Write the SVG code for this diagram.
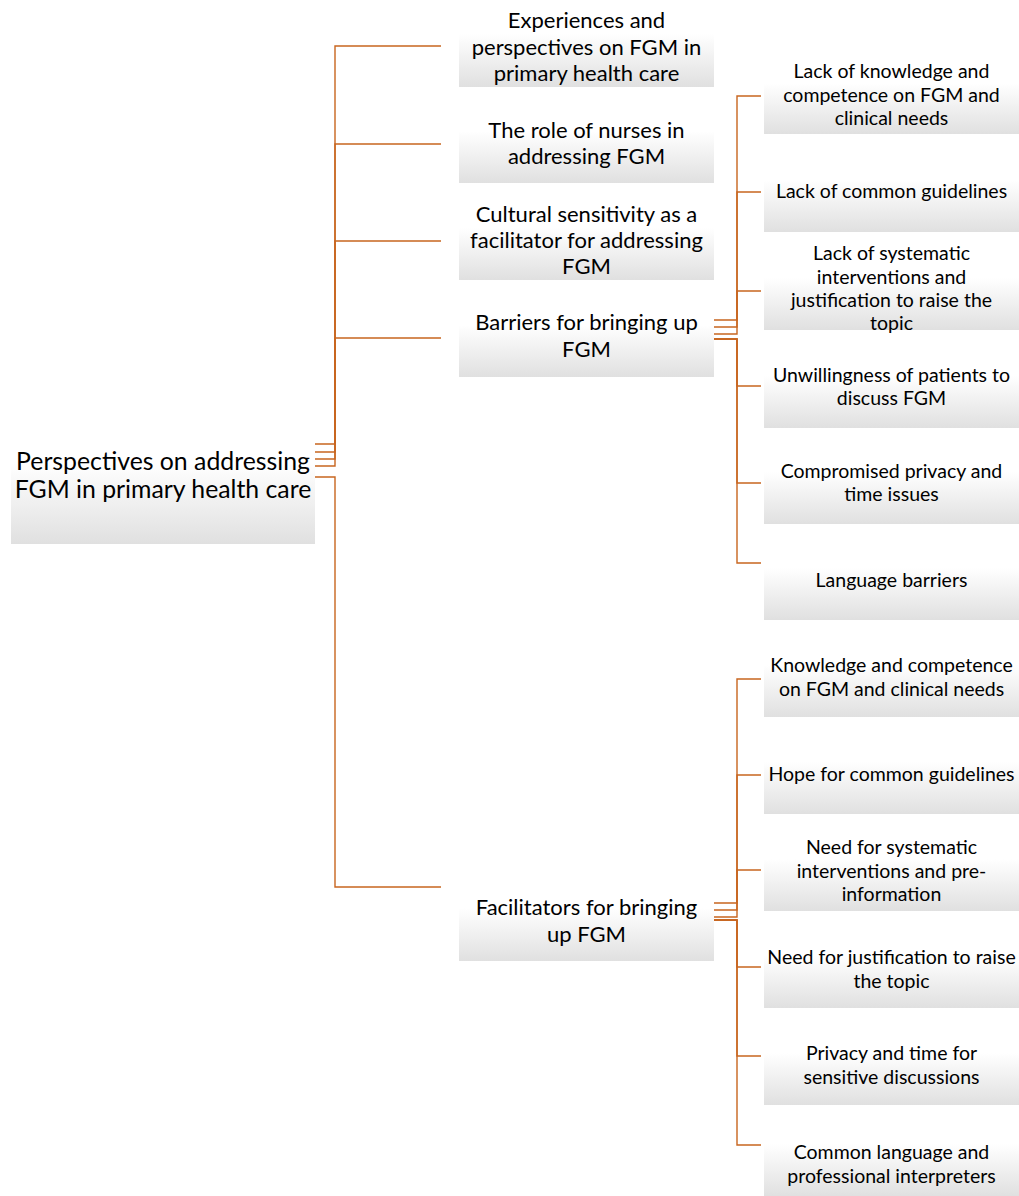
<svg xmlns="http://www.w3.org/2000/svg" width="1019" height="1196" viewBox="0 0 1019 1196">
<defs>
<linearGradient id="g" x1="0" y1="0" x2="0" y2="1">
<stop offset="0" stop-color="#ffffff"/>
<stop offset="0.35" stop-color="#ffffff"/>
<stop offset="1" stop-color="#e0e0e0"/>
</linearGradient>
</defs>
<style>
.box{fill:url(#g);stroke:none}
.t0{font-family:Lato,"Liberation Sans",sans-serif;font-size:24.8px;fill:#000;text-anchor:middle}
.t1{font-family:Lato,"Liberation Sans",sans-serif;font-size:22px;fill:#000;text-anchor:middle}
.t2{font-family:Lato,"Liberation Sans",sans-serif;font-size:19.5px;fill:#000;text-anchor:middle}
.c{fill:none;stroke:#c8651f;stroke-width:1.4}
</style>
<g id="connectors">
<path class="c" d="M315,444H335V46H441"/>
<path class="c" d="M315,452H335V144H441"/>
<path class="c" d="M315,459H335V241H441"/>
<path class="c" d="M315,466H335V338H441"/>
<path class="c" d="M315,477H335V887H441"/>
<path class="c" d="M714,320H737V96H761"/>
<path class="c" d="M714,327H737V192H761"/>
<path class="c" d="M714,334H737V291H761"/>
<path class="c" d="M714,339H737V386H761"/>
<path class="c" d="M714,339H737V483H761"/>
<path class="c" d="M714,339H737V563H761"/>
<path class="c" d="M714,903H737V679H761"/>
<path class="c" d="M714,910H737V775H761"/>
<path class="c" d="M714,917H737V870H761"/>
<path class="c" d="M714,920H737V967H761"/>
<path class="c" d="M714,920H737V1056H761"/>
<path class="c" d="M714,920H737V1145H761"/>
</g>
<g id="root">
<rect class="box" x="11" y="420" width="304" height="124"/>
<text class="t0" x="163" y="470">Perspectives on addressing</text>
<text class="t0" x="163" y="498">FGM in primary health care</text>
</g>
<g id="n-experiences">
<rect class="box" x="459" y="5" width="255" height="82"/>
<text class="t1" x="586.5" y="28">Experiences and</text>
<text class="t1" x="586.5" y="54.5">perspectives on FGM in</text>
<text class="t1" x="586.5" y="81">primary health care</text>
</g>
<g id="n-role">
<rect class="box" x="459" y="103" width="255" height="80"/>
<text class="t1" x="586.5" y="138">The role of nurses in</text>
<text class="t1" x="586.5" y="164">addressing FGM</text>
</g>
<g id="n-cultural">
<rect class="box" x="459" y="200" width="255" height="80"/>
<text class="t1" x="586.5" y="222">Cultural sensitivity as a</text>
<text class="t1" x="586.5" y="248">facilitator for addressing</text>
<text class="t1" x="586.5" y="274">FGM</text>
</g>
<g id="n-barriers">
<rect class="box" x="459" y="297" width="255" height="80"/>
<text class="t1" x="586.5" y="330">Barriers for bringing up</text>
<text class="t1" x="586.5" y="357">FGM</text>
</g>
<g id="n-facilitators">
<rect class="box" x="459" y="880" width="255" height="81"/>
<text class="t1" x="586.5" y="915">Facilitators for bringing</text>
<text class="t1" x="586.5" y="942">up FGM</text>
</g>
<g id="b1">
<rect class="box" x="764" y="56" width="255" height="78"/>
<text class="t2" x="891.5" y="78">Lack of knowledge and</text>
<text class="t2" x="891.5" y="102">competence on FGM and</text>
<text class="t2" x="891.5" y="125">clinical needs</text>
</g>
<g id="b2">
<rect class="box" x="764" y="153" width="255" height="79"/>
<text class="t2" x="891.5" y="198">Lack of common guidelines</text>
</g>
<g id="b3">
<rect class="box" x="764" y="250" width="255" height="80"/>
<text class="t2" x="891.5" y="260">Lack of systematic</text>
<text class="t2" x="891.5" y="283.5">interventions and</text>
<text class="t2" x="891.5" y="307">justification to raise the</text>
<text class="t2" x="891.5" y="330">topic</text>
</g>
<g id="b4">
<rect class="box" x="764" y="348" width="255" height="80"/>
<text class="t2" x="891.5" y="382">Unwillingness of patients to</text>
<text class="t2" x="891.5" y="405">discuss FGM</text>
</g>
<g id="b5">
<rect class="box" x="764" y="444" width="255" height="80"/>
<text class="t2" x="891.5" y="478">Compromised privacy and</text>
<text class="t2" x="891.5" y="501">time issues</text>
</g>
<g id="b6">
<rect class="box" x="764" y="540" width="255" height="80"/>
<text class="t2" x="891.5" y="587">Language barriers</text>
</g>
<g id="f1">
<rect class="box" x="764" y="637" width="255" height="80"/>
<text class="t2" x="891.5" y="672">Knowledge and competence</text>
<text class="t2" x="891.5" y="696">on FGM and clinical needs</text>
</g>
<g id="f2">
<rect class="box" x="764" y="734" width="255" height="80"/>
<text class="t2" x="891.5" y="781">Hope for common guidelines</text>
</g>
<g id="f3">
<rect class="box" x="764" y="831" width="255" height="80"/>
<text class="t2" x="891.5" y="854">Need for systematic</text>
<text class="t2" x="891.5" y="878">interventions and pre-</text>
<text class="t2" x="891.5" y="901">information</text>
</g>
<g id="f4">
<rect class="box" x="764" y="928" width="255" height="80"/>
<text class="t2" x="891.5" y="964">Need for justification to raise</text>
<text class="t2" x="891.5" y="988">the topic</text>
</g>
<g id="f5">
<rect class="box" x="764" y="1025" width="255" height="80"/>
<text class="t2" x="891.5" y="1060">Privacy and time for</text>
<text class="t2" x="891.5" y="1084">sensitive discussions</text>
</g>
<g id="f6">
<rect class="box" x="764" y="1116" width="255" height="80"/>
<text class="t2" x="891.5" y="1159">Common language and</text>
<text class="t2" x="891.5" y="1183">professional interpreters</text>
</g>
</svg>
